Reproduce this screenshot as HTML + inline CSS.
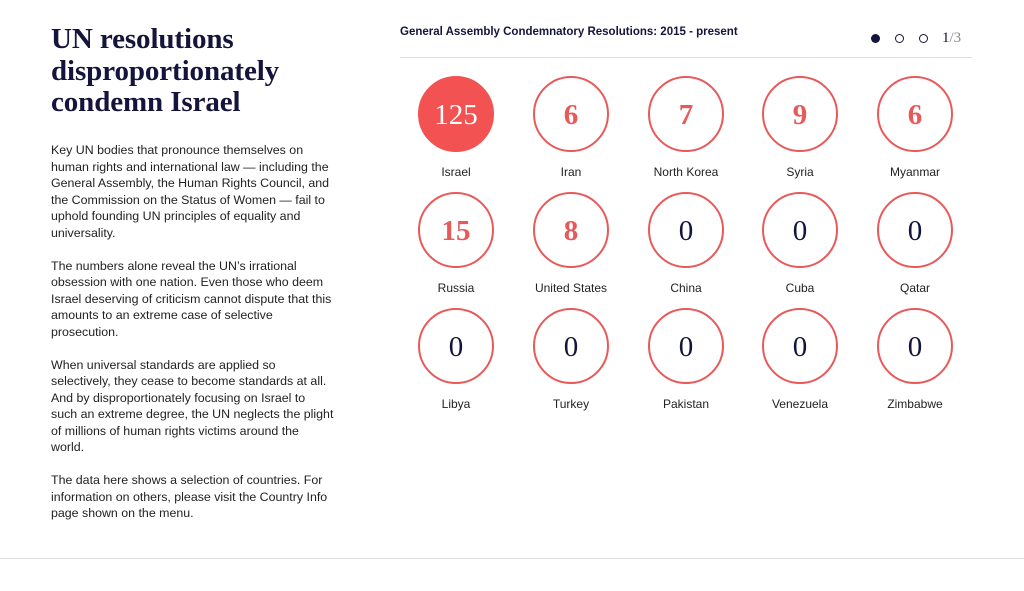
<!DOCTYPE html>
<html><head><meta charset="utf-8"><style>
body{margin:0;width:1024px;height:591px;background:#fff;position:relative;overflow:hidden;font-family:"Liberation Sans",sans-serif;color:#1a1a3a}
h1{position:absolute;left:51px;top:24px;margin:0;font-family:"Liberation Serif",serif;font-weight:bold;font-size:29px;line-height:31.5px;color:#14143c;letter-spacing:-0.1px}
.txt{position:absolute;left:51px;top:142px;font-size:12.4px;line-height:16.5px;color:#222;white-space:nowrap}
.txt p{margin:0 0 16.5px 0}
.hd{position:absolute;left:400px;top:26px;font-size:11.5px;font-weight:bold;color:#14143c}
.rule{position:absolute;left:400px;top:57px;width:572px;height:1px;background:#ddd}
.bot{position:absolute;left:0;top:558px;width:1024px;height:1px;background:#ddd}
.dot{position:absolute;top:34px;width:9px;height:9px;border-radius:50%;box-sizing:border-box}
.pg{position:absolute;left:942px;top:30px;font-family:"Liberation Serif",serif;font-size:15px;color:#14143c}
.c{position:absolute;width:76px;height:76px;border:2.5px solid #e85a5a;border-radius:50%;box-sizing:border-box;text-align:center;line-height:75px;font-family:"Liberation Serif",serif;font-size:29px;font-weight:bold;color:#e85a5a}
.c.z{color:#14143c;font-weight:normal}
.c.f{background:#f25252;border-color:#f25252;color:#fff;font-weight:normal}
.l{position:absolute;width:120px;text-align:center;font-size:12px;color:#222}
</style></head><body>
<h1>UN resolutions<br>disproportionately<br>condemn Israel</h1>
<div class="txt">
<p>Key UN bodies that pronounce themselves on<br>human rights and international law — including the<br>General Assembly, the Human Rights Council, and<br>the Commission on the Status of Women — fail to<br>uphold founding UN principles of equality and<br>universality.</p>
<p>The numbers alone reveal the UN’s irrational<br>obsession with one nation. Even those who deem<br>Israel deserving of criticism cannot dispute that this<br>amounts to an extreme case of selective<br>prosecution.</p>
<p>When universal standards are applied so<br>selectively, they cease to become standards at all.<br>And by disproportionately focusing on Israel to<br>such an extreme degree, the UN neglects the plight<br>of millions of human rights victims around the<br>world.</p>
<p>The data here shows a selection of countries. For<br>information on others, please visit the Country Info<br>page shown on the menu.</p>
</div>
<div class="hd">General Assembly Condemnatory Resolutions: 2015 - present</div>
<div class="dot" style="left:871px;background:#14143c"></div>
<div class="dot" style="left:895px;border:1.8px solid #14143c"></div>
<div class="dot" style="left:919px;border:1.8px solid #14143c"></div>
<div class="pg">1<span style="color:#888">/3</span></div>
<div class="rule"></div>
<div class="bot"></div>

<div class="c f" style="left:418px;top:76px">125</div><div class="l" style="left:396px;top:165px">Israel</div>
<div class="c" style="left:533px;top:76px">6</div><div class="l" style="left:511px;top:165px">Iran</div>
<div class="c" style="left:648px;top:76px">7</div><div class="l" style="left:626px;top:165px">North Korea</div>
<div class="c" style="left:762px;top:76px">9</div><div class="l" style="left:740px;top:165px">Syria</div>
<div class="c" style="left:877px;top:76px">6</div><div class="l" style="left:855px;top:165px">Myanmar</div>

<div class="c" style="left:418px;top:192px">15</div><div class="l" style="left:396px;top:281px">Russia</div>
<div class="c" style="left:533px;top:192px">8</div><div class="l" style="left:511px;top:281px">United States</div>
<div class="c z" style="left:648px;top:192px">0</div><div class="l" style="left:626px;top:281px">China</div>
<div class="c z" style="left:762px;top:192px">0</div><div class="l" style="left:740px;top:281px">Cuba</div>
<div class="c z" style="left:877px;top:192px">0</div><div class="l" style="left:855px;top:281px">Qatar</div>

<div class="c z" style="left:418px;top:308px">0</div><div class="l" style="left:396px;top:397px">Libya</div>
<div class="c z" style="left:533px;top:308px">0</div><div class="l" style="left:511px;top:397px">Turkey</div>
<div class="c z" style="left:648px;top:308px">0</div><div class="l" style="left:626px;top:397px">Pakistan</div>
<div class="c z" style="left:762px;top:308px">0</div><div class="l" style="left:740px;top:397px">Venezuela</div>
<div class="c z" style="left:877px;top:308px">0</div><div class="l" style="left:855px;top:397px">Zimbabwe</div>
</body></html>
